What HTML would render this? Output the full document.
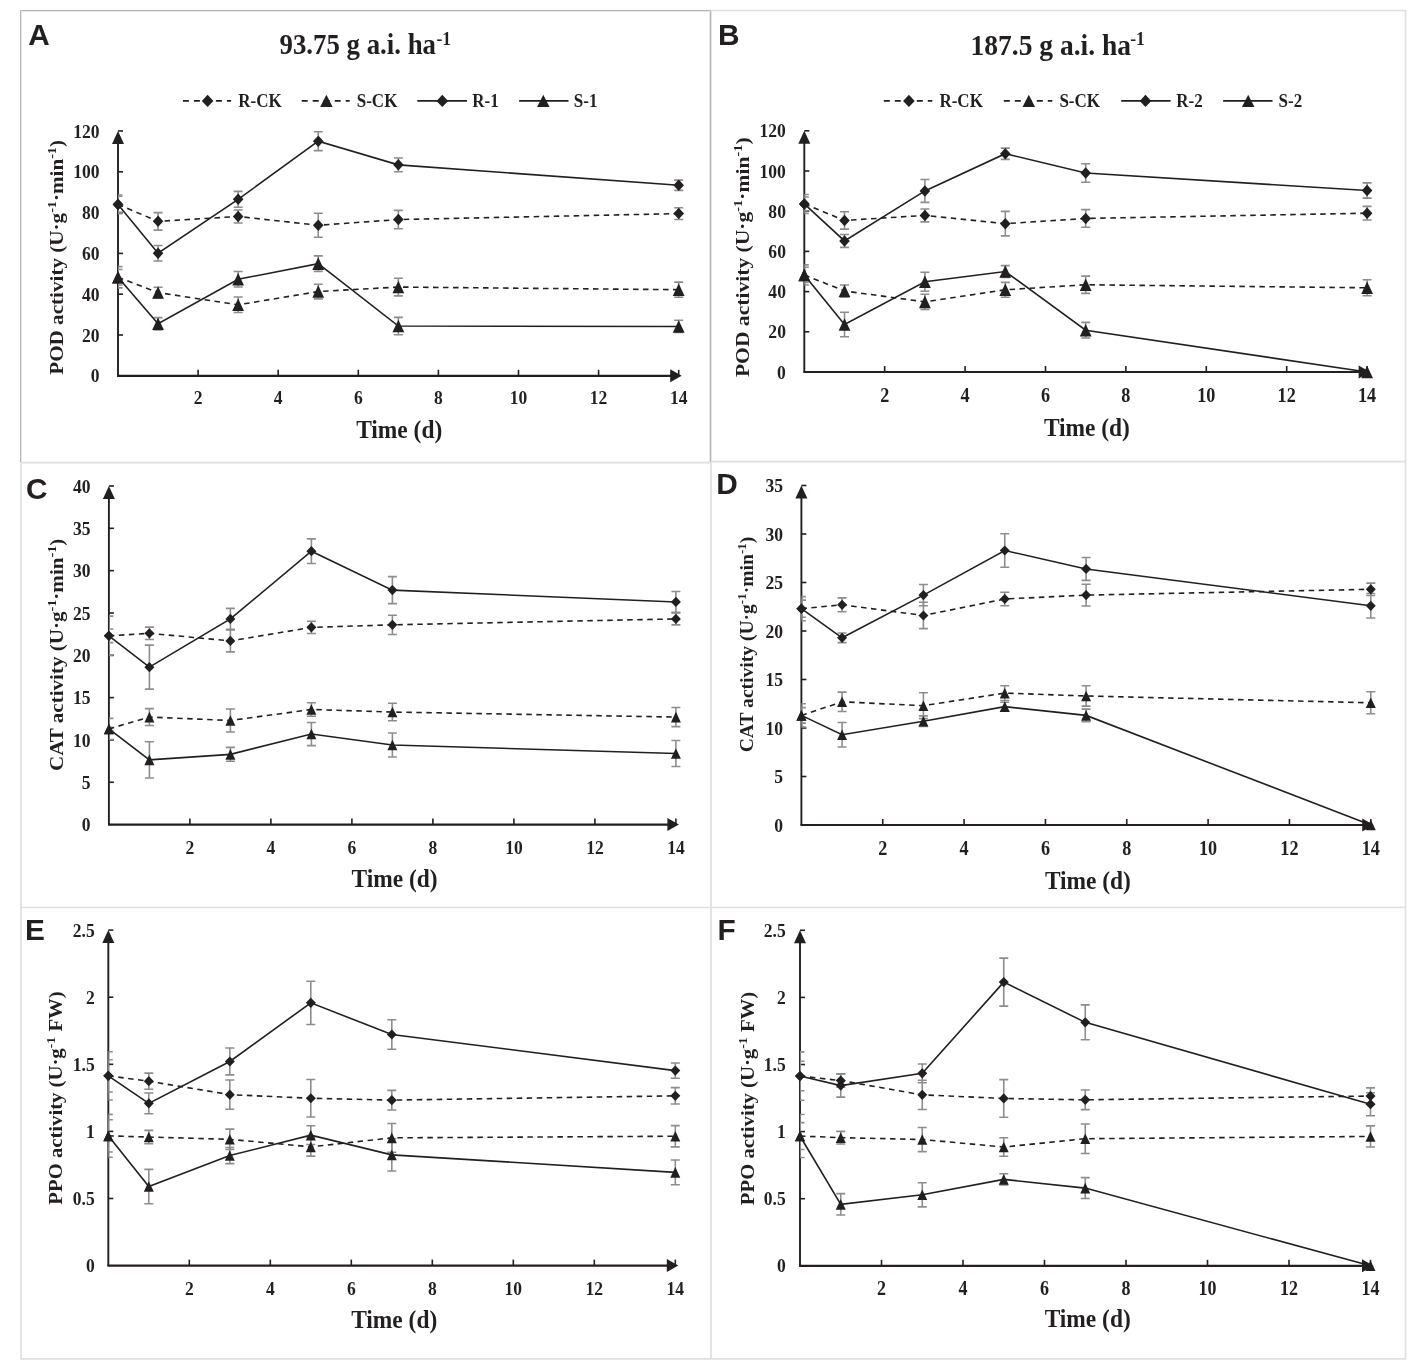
<!DOCTYPE html><html><head><meta charset="utf-8"><title>Figure</title><style>html,body{margin:0;padding:0;background:#fff;}svg{display:block;will-change:transform;}</style></head><body>
<svg width="1417" height="1371" viewBox="0 0 1417 1371">
<rect width="1417" height="1371" fill="#fff"/>
<path d="M21,462V1358.8H1405.5V10.5H711V1358.8M21,907.5H1405.5M21,462.6H711M711,461.6H1405.5" stroke="#dfe0e2" stroke-width="1.7" fill="none"/>
<path d="M20.5,462V10.5H710.5V462" stroke="#b6b7b9" stroke-width="1" fill="none"/>
<path d="M21.5,462V11.5H709.5V462" stroke="#e6e6e7" stroke-width="1" fill="none"/>
<text transform="translate(279.5,54.2) scale(0.886,1)" font-family="'Liberation Serif', serif" font-weight="bold" font-size="30.3" fill="#231f20">93.75 g a.i. ha</text>
<text transform="translate(436.5,44.6) scale(0.9,1)" font-family="'Liberation Serif', serif" font-weight="bold" font-size="19.5" fill="#231f20">-1</text>
<text transform="translate(970.6,54.6) scale(0.908,1)" font-family="'Liberation Serif', serif" font-weight="bold" font-size="30.3" fill="#231f20">187.5 g a.i. ha</text>
<text transform="translate(1130.2,44.6) scale(0.9,1)" font-family="'Liberation Serif', serif" font-weight="bold" font-size="19.5" fill="#231f20">-1</text>
<path d="M182.9,100.9H231.1" stroke="#231f20" stroke-width="1.6" stroke-dasharray="6,5"/>
<path d="M207.60,94.75L213.40,100.90L207.60,107.05L201.80,100.90Z" fill="#231f20"/>
<text transform="translate(238.20,107.20) scale(0.865,1)" font-family="'Liberation Serif', serif" font-weight="bold" font-size="19.7" text-anchor="start" fill="#231f20" >R-CK</text>
<path d="M301.7,100.9H349.7" stroke="#231f20" stroke-width="1.6" stroke-dasharray="6,5"/>
<path d="M326.40,94.75L332.65,107.05L320.15,107.05Z" fill="#231f20"/>
<text transform="translate(356.70,107.20) scale(0.865,1)" font-family="'Liberation Serif', serif" font-weight="bold" font-size="19.7" text-anchor="start" fill="#231f20" >S-CK</text>
<path d="M417.3,100.9H467" stroke="#231f20" stroke-width="1.6"/>
<path d="M442.30,94.75L448.10,100.90L442.30,107.05L436.50,100.90Z" fill="#231f20"/>
<text transform="translate(472.30,107.20) scale(0.865,1)" font-family="'Liberation Serif', serif" font-weight="bold" font-size="19.7" text-anchor="start" fill="#231f20" >R-1</text>
<path d="M519.1,100.9H568.5" stroke="#231f20" stroke-width="1.6"/>
<path d="M543.30,94.75L549.55,107.05L537.05,107.05Z" fill="#231f20"/>
<text transform="translate(573.80,107.20) scale(0.865,1)" font-family="'Liberation Serif', serif" font-weight="bold" font-size="19.7" text-anchor="start" fill="#231f20" >S-1</text>
<path d="M883.8,100.9H932.3" stroke="#231f20" stroke-width="1.6" stroke-dasharray="6,5"/>
<path d="M908.90,94.75L914.70,100.90L908.90,107.05L903.10,100.90Z" fill="#231f20"/>
<text transform="translate(939.40,107.20) scale(0.865,1)" font-family="'Liberation Serif', serif" font-weight="bold" font-size="19.7" text-anchor="start" fill="#231f20" >R-CK</text>
<path d="M1003.8,100.9H1052.3" stroke="#231f20" stroke-width="1.6" stroke-dasharray="6,5"/>
<path d="M1028.80,94.75L1035.05,107.05L1022.55,107.05Z" fill="#231f20"/>
<text transform="translate(1059.40,107.20) scale(0.865,1)" font-family="'Liberation Serif', serif" font-weight="bold" font-size="19.7" text-anchor="start" fill="#231f20" >S-CK</text>
<path d="M1121.2,100.9H1170.6" stroke="#231f20" stroke-width="1.6"/>
<path d="M1145.50,94.75L1151.30,100.90L1145.50,107.05L1139.70,100.90Z" fill="#231f20"/>
<text transform="translate(1176.20,107.20) scale(0.865,1)" font-family="'Liberation Serif', serif" font-weight="bold" font-size="19.7" text-anchor="start" fill="#231f20" >R-2</text>
<path d="M1223.1,100.9H1272.5" stroke="#231f20" stroke-width="1.6"/>
<path d="M1248.20,94.75L1254.45,107.05L1241.95,107.05Z" fill="#231f20"/>
<text transform="translate(1278.50,107.20) scale(0.865,1)" font-family="'Liberation Serif', serif" font-weight="bold" font-size="19.7" text-anchor="start" fill="#231f20" >S-2</text>
<path d="M118.00,139.00V375.80" stroke="#231f20" stroke-width="1.9" fill="none"/>
<path d="M117.05,375.80H673.70" stroke="#231f20" stroke-width="2.2" fill="none"/>
<path d="M118.00,131.00L124.00,144.00L112.00,144.00Z" fill="#231f20"/>
<path d="M681.70,375.80L670.20,369.30L670.20,382.30Z" fill="#231f20"/>
<text transform="translate(99.60,382.40) scale(0.9,1)" font-family="'Liberation Serif', serif" font-weight="bold" font-size="19.5" text-anchor="end" fill="#231f20" >0</text>
<path d="M118.00,335.00H123.00" stroke="#231f20" stroke-width="1.6"/>
<text transform="translate(99.60,341.60) scale(0.9,1)" font-family="'Liberation Serif', serif" font-weight="bold" font-size="19.5" text-anchor="end" fill="#231f20" >20</text>
<path d="M118.00,294.20H123.00" stroke="#231f20" stroke-width="1.6"/>
<text transform="translate(99.60,300.80) scale(0.9,1)" font-family="'Liberation Serif', serif" font-weight="bold" font-size="19.5" text-anchor="end" fill="#231f20" >40</text>
<path d="M118.00,253.40H123.00" stroke="#231f20" stroke-width="1.6"/>
<text transform="translate(99.60,260.00) scale(0.9,1)" font-family="'Liberation Serif', serif" font-weight="bold" font-size="19.5" text-anchor="end" fill="#231f20" >60</text>
<path d="M118.00,212.60H123.00" stroke="#231f20" stroke-width="1.6"/>
<text transform="translate(99.60,219.20) scale(0.9,1)" font-family="'Liberation Serif', serif" font-weight="bold" font-size="19.5" text-anchor="end" fill="#231f20" >80</text>
<path d="M118.00,171.80H123.00" stroke="#231f20" stroke-width="1.6"/>
<text transform="translate(99.60,178.40) scale(0.9,1)" font-family="'Liberation Serif', serif" font-weight="bold" font-size="19.5" text-anchor="end" fill="#231f20" >100</text>
<path d="M118.00,131.00H123.00" stroke="#231f20" stroke-width="1.6"/>
<text transform="translate(99.60,137.60) scale(0.9,1)" font-family="'Liberation Serif', serif" font-weight="bold" font-size="19.5" text-anchor="end" fill="#231f20" >120</text>
<path d="M198.10,375.80V369.80" stroke="#231f20" stroke-width="1.6"/>
<text transform="translate(198.10,404.30) scale(0.9,1)" font-family="'Liberation Serif', serif" font-weight="bold" font-size="19.5" text-anchor="middle" fill="#231f20" >2</text>
<path d="M278.20,375.80V369.80" stroke="#231f20" stroke-width="1.6"/>
<text transform="translate(278.20,404.30) scale(0.9,1)" font-family="'Liberation Serif', serif" font-weight="bold" font-size="19.5" text-anchor="middle" fill="#231f20" >4</text>
<path d="M358.30,375.80V369.80" stroke="#231f20" stroke-width="1.6"/>
<text transform="translate(358.30,404.30) scale(0.9,1)" font-family="'Liberation Serif', serif" font-weight="bold" font-size="19.5" text-anchor="middle" fill="#231f20" >6</text>
<path d="M438.40,375.80V369.80" stroke="#231f20" stroke-width="1.6"/>
<text transform="translate(438.40,404.30) scale(0.9,1)" font-family="'Liberation Serif', serif" font-weight="bold" font-size="19.5" text-anchor="middle" fill="#231f20" >8</text>
<path d="M518.50,375.80V369.80" stroke="#231f20" stroke-width="1.6"/>
<text transform="translate(518.50,404.30) scale(0.9,1)" font-family="'Liberation Serif', serif" font-weight="bold" font-size="19.5" text-anchor="middle" fill="#231f20" >10</text>
<path d="M598.60,375.80V369.80" stroke="#231f20" stroke-width="1.6"/>
<text transform="translate(598.60,404.30) scale(0.9,1)" font-family="'Liberation Serif', serif" font-weight="bold" font-size="19.5" text-anchor="middle" fill="#231f20" >12</text>
<path d="M678.70,375.80V369.80" stroke="#231f20" stroke-width="1.6"/>
<text transform="translate(678.70,404.30) scale(0.9,1)" font-family="'Liberation Serif', serif" font-weight="bold" font-size="19.5" text-anchor="middle" fill="#231f20" >14</text>
<clipPath id="c1180"><rect x="118.00" y="0" width="1417" height="1371"/></clipPath><g clip-path="url(#c1180)">
<path d="M118.00,196.28V212.60M113.50,196.28H122.50M113.50,212.60H122.50" stroke="#8b8d90" stroke-width="1.6" fill="none"/>
<path d="M158.05,212.60V230.14M153.55,212.60H162.55M153.55,230.14H162.55" stroke="#8b8d90" stroke-width="1.6" fill="none"/>
<path d="M238.15,209.95V223.00M233.65,209.95H242.65M233.65,223.00H242.65" stroke="#8b8d90" stroke-width="1.6" fill="none"/>
<path d="M318.25,213.21V237.28M313.75,213.21H322.75M313.75,237.28H322.75" stroke="#8b8d90" stroke-width="1.6" fill="none"/>
<path d="M398.35,210.36V228.72M393.85,210.36H402.85M393.85,228.72H402.85" stroke="#8b8d90" stroke-width="1.6" fill="none"/>
<path d="M678.70,207.70V219.54M674.20,207.70H683.20M674.20,219.54H683.20" stroke="#8b8d90" stroke-width="1.6" fill="none"/>
<path d="M118.00,269.52V285.02M113.50,269.52H122.50M113.50,285.02H122.50" stroke="#8b8d90" stroke-width="1.6" fill="none"/>
<path d="M158.05,287.26V297.87M153.55,287.26H162.55M153.55,297.87H162.55" stroke="#8b8d90" stroke-width="1.6" fill="none"/>
<path d="M238.15,297.06V312.56M233.65,297.06H242.65M233.65,312.56H242.65" stroke="#8b8d90" stroke-width="1.6" fill="none"/>
<path d="M318.25,284.20V298.89M313.75,284.20H322.75M313.75,298.89H322.75" stroke="#8b8d90" stroke-width="1.6" fill="none"/>
<path d="M398.35,278.29V295.83M393.85,278.29H402.85M393.85,295.83H402.85" stroke="#8b8d90" stroke-width="1.6" fill="none"/>
<path d="M678.70,282.16V297.26M674.20,282.16H683.20M674.20,297.26H683.20" stroke="#8b8d90" stroke-width="1.6" fill="none"/>
<path d="M118.00,195.06V213.82M113.50,195.06H122.50M113.50,213.82H122.50" stroke="#8b8d90" stroke-width="1.6" fill="none"/>
<path d="M158.05,245.44V260.95M153.55,245.44H162.55M153.55,260.95H162.55" stroke="#8b8d90" stroke-width="1.6" fill="none"/>
<path d="M238.15,191.38V207.30M233.65,191.38H242.65M233.65,207.30H242.65" stroke="#8b8d90" stroke-width="1.6" fill="none"/>
<path d="M318.25,131.82V150.58M313.75,131.82H322.75M313.75,150.58H322.75" stroke="#8b8d90" stroke-width="1.6" fill="none"/>
<path d="M398.35,157.93V171.80M393.85,157.93H402.85M393.85,171.80H402.85" stroke="#8b8d90" stroke-width="1.6" fill="none"/>
<path d="M678.70,180.16V190.36M674.20,180.16H683.20M674.20,190.36H683.20" stroke="#8b8d90" stroke-width="1.6" fill="none"/>
<path d="M118.00,266.66V287.88M113.50,266.66H122.50M113.50,287.88H122.50" stroke="#8b8d90" stroke-width="1.6" fill="none"/>
<path d="M158.05,317.66V329.90M153.55,317.66H162.55M153.55,329.90H162.55" stroke="#8b8d90" stroke-width="1.6" fill="none"/>
<path d="M238.15,271.56V287.06M233.65,271.56H242.65M233.65,287.06H242.65" stroke="#8b8d90" stroke-width="1.6" fill="none"/>
<path d="M318.25,255.85V271.35M313.75,255.85H322.75M313.75,271.35H322.75" stroke="#8b8d90" stroke-width="1.6" fill="none"/>
<path d="M398.35,317.35V334.69M393.85,317.35H402.85M393.85,334.69H402.85" stroke="#8b8d90" stroke-width="1.6" fill="none"/>
<path d="M678.70,320.31V332.55M674.20,320.31H683.20M674.20,332.55H683.20" stroke="#8b8d90" stroke-width="1.6" fill="none"/>
</g>
<polyline points="118.00,204.44 158.05,221.37 238.15,216.48 318.25,225.25 398.35,219.54 678.70,213.62" fill="none" stroke="#231f20" stroke-width="1.6" stroke-dasharray="5.5,4.5"/>
<polyline points="118.00,277.27 158.05,292.57 238.15,304.81 318.25,291.55 398.35,287.06 678.70,289.71" fill="none" stroke="#231f20" stroke-width="1.6" stroke-dasharray="5.5,4.5"/>
<polyline points="118.00,204.44 158.05,253.20 238.15,199.34 318.25,141.20 398.35,164.86 678.70,185.26" fill="none" stroke="#231f20" stroke-width="1.6"/>
<polyline points="118.00,277.27 158.05,323.78 238.15,279.31 318.25,263.60 398.35,326.02 678.70,326.43" fill="none" stroke="#231f20" stroke-width="1.6"/>
<path d="M118.00,198.69L123.30,204.44L118.00,210.19L112.70,204.44Z" fill="#231f20"/>
<path d="M158.05,215.62L163.35,221.37L158.05,227.12L152.75,221.37Z" fill="#231f20"/>
<path d="M238.15,210.73L243.45,216.48L238.15,222.23L232.85,216.48Z" fill="#231f20"/>
<path d="M318.25,219.50L323.55,225.25L318.25,231.00L312.95,225.25Z" fill="#231f20"/>
<path d="M398.35,213.79L403.65,219.54L398.35,225.29L393.05,219.54Z" fill="#231f20"/>
<path d="M678.70,207.87L684.00,213.62L678.70,219.37L673.40,213.62Z" fill="#231f20"/>
<path d="M118.00,198.69L123.30,204.44L118.00,210.19L112.70,204.44Z" fill="#231f20"/>
<path d="M158.05,247.45L163.35,253.20L158.05,258.95L152.75,253.20Z" fill="#231f20"/>
<path d="M238.15,193.59L243.45,199.34L238.15,205.09L232.85,199.34Z" fill="#231f20"/>
<path d="M318.25,135.45L323.55,141.20L318.25,146.95L312.95,141.20Z" fill="#231f20"/>
<path d="M398.35,159.11L403.65,164.86L398.35,170.61L393.05,164.86Z" fill="#231f20"/>
<path d="M678.70,179.51L684.00,185.26L678.70,191.01L673.40,185.26Z" fill="#231f20"/>
<path d="M118.00,270.97L123.90,283.57L112.10,283.57Z" fill="#231f20"/>
<path d="M158.05,286.27L163.95,298.87L152.15,298.87Z" fill="#231f20"/>
<path d="M238.15,298.51L244.05,311.11L232.25,311.11Z" fill="#231f20"/>
<path d="M318.25,285.25L324.15,297.85L312.35,297.85Z" fill="#231f20"/>
<path d="M398.35,280.76L404.25,293.36L392.45,293.36Z" fill="#231f20"/>
<path d="M678.70,283.41L684.60,296.01L672.80,296.01Z" fill="#231f20"/>
<path d="M118.00,270.97L123.90,283.57L112.10,283.57Z" fill="#231f20"/>
<path d="M158.05,317.48L163.95,330.08L152.15,330.08Z" fill="#231f20"/>
<path d="M238.15,273.01L244.05,285.61L232.25,285.61Z" fill="#231f20"/>
<path d="M318.25,257.30L324.15,269.90L312.35,269.90Z" fill="#231f20"/>
<path d="M398.35,319.72L404.25,332.32L392.45,332.32Z" fill="#231f20"/>
<path d="M678.70,320.13L684.60,332.73L672.80,332.73Z" fill="#231f20"/>
<text transform="translate(399.20,438.20) scale(0.915,1)" font-family="'Liberation Serif', serif" font-weight="bold" font-size="25.6" text-anchor="middle" fill="#231f20" >Time (d)</text>
<text transform="translate(63.20,257.40) rotate(-90)" font-family="'Liberation Serif', serif" font-weight="bold" font-size="19.5" text-anchor="middle" fill="#231f20" textLength="234.7" lengthAdjust="spacingAndGlyphs">POD activity (U·g<tspan dy="-7" font-size="13">-1</tspan><tspan dy="7">·min</tspan><tspan dy="-7" font-size="13">-1</tspan><tspan dy="7">)</tspan></text>
<text x="28.3" y="45.3" font-family="'Liberation Sans', sans-serif" font-weight="bold" font-size="29.8" fill="#231f20">A</text>
<path d="M804.30,138.80V372.00" stroke="#231f20" stroke-width="1.9" fill="none"/>
<path d="M803.35,372.00H1362.10" stroke="#231f20" stroke-width="2.2" fill="none"/>
<path d="M804.30,130.80L810.30,143.80L798.30,143.80Z" fill="#231f20"/>
<path d="M1370.10,372.00L1358.60,365.50L1358.60,378.50Z" fill="#231f20"/>
<text transform="translate(785.90,378.60) scale(0.9,1)" font-family="'Liberation Serif', serif" font-weight="bold" font-size="19.5" text-anchor="end" fill="#231f20" >0</text>
<path d="M804.30,331.80H809.30" stroke="#231f20" stroke-width="1.6"/>
<text transform="translate(785.90,338.40) scale(0.9,1)" font-family="'Liberation Serif', serif" font-weight="bold" font-size="19.5" text-anchor="end" fill="#231f20" >20</text>
<path d="M804.30,291.60H809.30" stroke="#231f20" stroke-width="1.6"/>
<text transform="translate(785.90,298.20) scale(0.9,1)" font-family="'Liberation Serif', serif" font-weight="bold" font-size="19.5" text-anchor="end" fill="#231f20" >40</text>
<path d="M804.30,251.40H809.30" stroke="#231f20" stroke-width="1.6"/>
<text transform="translate(785.90,258.00) scale(0.9,1)" font-family="'Liberation Serif', serif" font-weight="bold" font-size="19.5" text-anchor="end" fill="#231f20" >60</text>
<path d="M804.30,211.20H809.30" stroke="#231f20" stroke-width="1.6"/>
<text transform="translate(785.90,217.80) scale(0.9,1)" font-family="'Liberation Serif', serif" font-weight="bold" font-size="19.5" text-anchor="end" fill="#231f20" >80</text>
<path d="M804.30,171.00H809.30" stroke="#231f20" stroke-width="1.6"/>
<text transform="translate(785.90,177.60) scale(0.9,1)" font-family="'Liberation Serif', serif" font-weight="bold" font-size="19.5" text-anchor="end" fill="#231f20" >100</text>
<path d="M804.30,130.80H809.30" stroke="#231f20" stroke-width="1.6"/>
<text transform="translate(785.90,137.40) scale(0.9,1)" font-family="'Liberation Serif', serif" font-weight="bold" font-size="19.5" text-anchor="end" fill="#231f20" >120</text>
<path d="M884.70,372.00V366.00" stroke="#231f20" stroke-width="1.6"/>
<text transform="translate(884.70,402.20) scale(0.9,1)" font-family="'Liberation Serif', serif" font-weight="bold" font-size="20.2" text-anchor="middle" fill="#231f20" >2</text>
<path d="M965.10,372.00V366.00" stroke="#231f20" stroke-width="1.6"/>
<text transform="translate(965.10,402.20) scale(0.9,1)" font-family="'Liberation Serif', serif" font-weight="bold" font-size="20.2" text-anchor="middle" fill="#231f20" >4</text>
<path d="M1045.50,372.00V366.00" stroke="#231f20" stroke-width="1.6"/>
<text transform="translate(1045.50,402.20) scale(0.9,1)" font-family="'Liberation Serif', serif" font-weight="bold" font-size="20.2" text-anchor="middle" fill="#231f20" >6</text>
<path d="M1125.90,372.00V366.00" stroke="#231f20" stroke-width="1.6"/>
<text transform="translate(1125.90,402.20) scale(0.9,1)" font-family="'Liberation Serif', serif" font-weight="bold" font-size="20.2" text-anchor="middle" fill="#231f20" >8</text>
<path d="M1206.30,372.00V366.00" stroke="#231f20" stroke-width="1.6"/>
<text transform="translate(1206.30,402.20) scale(0.9,1)" font-family="'Liberation Serif', serif" font-weight="bold" font-size="20.2" text-anchor="middle" fill="#231f20" >10</text>
<path d="M1286.70,372.00V366.00" stroke="#231f20" stroke-width="1.6"/>
<text transform="translate(1286.70,402.20) scale(0.9,1)" font-family="'Liberation Serif', serif" font-weight="bold" font-size="20.2" text-anchor="middle" fill="#231f20" >12</text>
<path d="M1367.10,372.00V366.00" stroke="#231f20" stroke-width="1.6"/>
<text transform="translate(1367.10,402.20) scale(0.9,1)" font-family="'Liberation Serif', serif" font-weight="bold" font-size="20.2" text-anchor="middle" fill="#231f20" >14</text>
<clipPath id="c8043"><rect x="804.30" y="0" width="1417" height="1371"/></clipPath><g clip-path="url(#c8043)">
<path d="M804.30,196.93V211.00M799.80,196.93H808.80M799.80,211.00H808.80" stroke="#8b8d90" stroke-width="1.6" fill="none"/>
<path d="M844.50,211.80V229.09M840.00,211.80H849.00M840.00,229.09H849.00" stroke="#8b8d90" stroke-width="1.6" fill="none"/>
<path d="M924.90,208.99V221.85M920.40,208.99H929.40M920.40,221.85H929.40" stroke="#8b8d90" stroke-width="1.6" fill="none"/>
<path d="M1005.30,211.40V235.92M1000.80,211.40H1009.80M1000.80,235.92H1009.80" stroke="#8b8d90" stroke-width="1.6" fill="none"/>
<path d="M1085.70,209.59V227.28M1081.20,209.59H1090.20M1081.20,227.28H1090.20" stroke="#8b8d90" stroke-width="1.6" fill="none"/>
<path d="M1367.10,206.38V220.04M1362.60,206.38H1371.60M1362.60,220.04H1371.60" stroke="#8b8d90" stroke-width="1.6" fill="none"/>
<path d="M804.30,267.28V282.56M799.80,267.28H808.80M799.80,282.56H808.80" stroke="#8b8d90" stroke-width="1.6" fill="none"/>
<path d="M844.50,284.97V297.03M840.00,284.97H849.00M840.00,297.03H849.00" stroke="#8b8d90" stroke-width="1.6" fill="none"/>
<path d="M924.90,294.21V309.49M920.40,294.21H929.40M920.40,309.49H929.40" stroke="#8b8d90" stroke-width="1.6" fill="none"/>
<path d="M1005.30,282.35V297.23M1000.80,282.35H1009.80M1000.80,297.23H1009.80" stroke="#8b8d90" stroke-width="1.6" fill="none"/>
<path d="M1085.70,276.12V293.41M1081.20,276.12H1090.20M1081.20,293.41H1090.20" stroke="#8b8d90" stroke-width="1.6" fill="none"/>
<path d="M1367.10,279.74V295.82M1362.60,279.74H1371.60M1362.60,295.82H1371.60" stroke="#8b8d90" stroke-width="1.6" fill="none"/>
<path d="M804.30,194.52V213.41M799.80,194.52H808.80M799.80,213.41H808.80" stroke="#8b8d90" stroke-width="1.6" fill="none"/>
<path d="M844.50,234.52V247.38M840.00,234.52H849.00M840.00,247.38H849.00" stroke="#8b8d90" stroke-width="1.6" fill="none"/>
<path d="M924.90,179.44V202.36M920.40,179.44H929.40M920.40,202.36H929.40" stroke="#8b8d90" stroke-width="1.6" fill="none"/>
<path d="M1005.30,148.09V159.34M1000.80,148.09H1009.80M1000.80,159.34H1009.80" stroke="#8b8d90" stroke-width="1.6" fill="none"/>
<path d="M1085.70,163.76V182.26M1081.20,163.76H1090.20M1081.20,182.26H1090.20" stroke="#8b8d90" stroke-width="1.6" fill="none"/>
<path d="M1367.10,182.86V198.14M1362.60,182.86H1371.60M1362.60,198.14H1371.60" stroke="#8b8d90" stroke-width="1.6" fill="none"/>
<path d="M804.30,264.87V284.97M799.80,264.87H808.80M799.80,284.97H808.80" stroke="#8b8d90" stroke-width="1.6" fill="none"/>
<path d="M844.50,312.30V336.82M840.00,312.30H849.00M840.00,336.82H849.00" stroke="#8b8d90" stroke-width="1.6" fill="none"/>
<path d="M924.90,272.30V291.20M920.40,272.30H929.40M920.40,291.20H929.40" stroke="#8b8d90" stroke-width="1.6" fill="none"/>
<path d="M1005.30,265.67V277.33M1000.80,265.67H1009.80M1000.80,277.33H1009.80" stroke="#8b8d90" stroke-width="1.6" fill="none"/>
<path d="M1085.70,322.35V338.03M1081.20,322.35H1090.20M1081.20,338.03H1090.20" stroke="#8b8d90" stroke-width="1.6" fill="none"/>
</g>
<polyline points="804.30,203.96 844.50,220.45 924.90,215.42 1005.30,223.66 1085.70,218.44 1367.10,213.21" fill="none" stroke="#231f20" stroke-width="1.6" stroke-dasharray="5.5,4.5"/>
<polyline points="804.30,274.92 844.50,291.00 924.90,301.85 1005.30,289.79 1085.70,284.77 1367.10,287.78" fill="none" stroke="#231f20" stroke-width="1.6" stroke-dasharray="5.5,4.5"/>
<polyline points="804.30,203.96 844.50,240.95 924.90,190.90 1005.30,153.71 1085.70,173.01 1367.10,190.50" fill="none" stroke="#231f20" stroke-width="1.6"/>
<polyline points="804.30,274.92 844.50,324.56 924.90,281.75 1005.30,271.50 1085.70,330.19 1367.10,372.00" fill="none" stroke="#231f20" stroke-width="1.6"/>
<path d="M804.30,198.21L809.60,203.96L804.30,209.71L799.00,203.96Z" fill="#231f20"/>
<path d="M844.50,214.70L849.80,220.45L844.50,226.20L839.20,220.45Z" fill="#231f20"/>
<path d="M924.90,209.67L930.20,215.42L924.90,221.17L919.60,215.42Z" fill="#231f20"/>
<path d="M1005.30,217.91L1010.60,223.66L1005.30,229.41L1000.00,223.66Z" fill="#231f20"/>
<path d="M1085.70,212.69L1091.00,218.44L1085.70,224.19L1080.40,218.44Z" fill="#231f20"/>
<path d="M1367.10,207.46L1372.40,213.21L1367.10,218.96L1361.80,213.21Z" fill="#231f20"/>
<path d="M804.30,198.21L809.60,203.96L804.30,209.71L799.00,203.96Z" fill="#231f20"/>
<path d="M844.50,235.20L849.80,240.95L844.50,246.70L839.20,240.95Z" fill="#231f20"/>
<path d="M924.90,185.15L930.20,190.90L924.90,196.65L919.60,190.90Z" fill="#231f20"/>
<path d="M1005.30,147.96L1010.60,153.71L1005.30,159.46L1000.00,153.71Z" fill="#231f20"/>
<path d="M1085.70,167.26L1091.00,173.01L1085.70,178.76L1080.40,173.01Z" fill="#231f20"/>
<path d="M1367.10,184.75L1372.40,190.50L1367.10,196.25L1361.80,190.50Z" fill="#231f20"/>
<path d="M804.30,268.62L810.20,281.22L798.40,281.22Z" fill="#231f20"/>
<path d="M844.50,284.70L850.40,297.30L838.60,297.30Z" fill="#231f20"/>
<path d="M924.90,295.55L930.80,308.15L919.00,308.15Z" fill="#231f20"/>
<path d="M1005.30,283.49L1011.20,296.09L999.40,296.09Z" fill="#231f20"/>
<path d="M1085.70,278.47L1091.60,291.07L1079.80,291.07Z" fill="#231f20"/>
<path d="M1367.10,281.48L1373.00,294.08L1361.20,294.08Z" fill="#231f20"/>
<path d="M804.30,268.62L810.20,281.22L798.40,281.22Z" fill="#231f20"/>
<path d="M844.50,318.26L850.40,330.86L838.60,330.86Z" fill="#231f20"/>
<path d="M924.90,275.45L930.80,288.05L919.00,288.05Z" fill="#231f20"/>
<path d="M1005.30,265.20L1011.20,277.80L999.40,277.80Z" fill="#231f20"/>
<path d="M1085.70,323.89L1091.60,336.49L1079.80,336.49Z" fill="#231f20"/>
<path d="M1367.10,365.70L1373.00,378.30L1361.20,378.30Z" fill="#231f20"/>
<text transform="translate(1086.90,435.70) scale(0.915,1)" font-family="'Liberation Serif', serif" font-weight="bold" font-size="25.6" text-anchor="middle" fill="#231f20" >Time (d)</text>
<text transform="translate(748.50,257.20) rotate(-90)" font-family="'Liberation Serif', serif" font-weight="bold" font-size="19.5" text-anchor="middle" fill="#231f20" textLength="239.8" lengthAdjust="spacingAndGlyphs">POD activity (U·g<tspan dy="-7" font-size="13">-1</tspan><tspan dy="7">·min</tspan><tspan dy="-7" font-size="13">-1</tspan><tspan dy="7">)</tspan></text>
<text x="718" y="44.8" font-family="'Liberation Sans', sans-serif" font-weight="bold" font-size="29.8" fill="#231f20">B</text>
<path d="M108.90,494.00V824.60" stroke="#231f20" stroke-width="1.9" fill="none"/>
<path d="M107.95,824.60H670.90" stroke="#231f20" stroke-width="2.2" fill="none"/>
<path d="M108.90,486.00L114.90,499.00L102.90,499.00Z" fill="#231f20"/>
<path d="M678.90,824.60L667.40,818.10L667.40,831.10Z" fill="#231f20"/>
<text transform="translate(90.50,831.20) scale(0.9,1)" font-family="'Liberation Serif', serif" font-weight="bold" font-size="19.5" text-anchor="end" fill="#231f20" >0</text>
<path d="M108.90,782.27H113.90" stroke="#231f20" stroke-width="1.6"/>
<text transform="translate(90.50,788.88) scale(0.9,1)" font-family="'Liberation Serif', serif" font-weight="bold" font-size="19.5" text-anchor="end" fill="#231f20" >5</text>
<path d="M108.90,739.95H113.90" stroke="#231f20" stroke-width="1.6"/>
<text transform="translate(90.50,746.55) scale(0.9,1)" font-family="'Liberation Serif', serif" font-weight="bold" font-size="19.5" text-anchor="end" fill="#231f20" >10</text>
<path d="M108.90,697.62H113.90" stroke="#231f20" stroke-width="1.6"/>
<text transform="translate(90.50,704.23) scale(0.9,1)" font-family="'Liberation Serif', serif" font-weight="bold" font-size="19.5" text-anchor="end" fill="#231f20" >15</text>
<path d="M108.90,655.30H113.90" stroke="#231f20" stroke-width="1.6"/>
<text transform="translate(90.50,661.90) scale(0.9,1)" font-family="'Liberation Serif', serif" font-weight="bold" font-size="19.5" text-anchor="end" fill="#231f20" >20</text>
<path d="M108.90,612.98H113.90" stroke="#231f20" stroke-width="1.6"/>
<text transform="translate(90.50,619.58) scale(0.9,1)" font-family="'Liberation Serif', serif" font-weight="bold" font-size="19.5" text-anchor="end" fill="#231f20" >25</text>
<path d="M108.90,570.65H113.90" stroke="#231f20" stroke-width="1.6"/>
<text transform="translate(90.50,577.25) scale(0.9,1)" font-family="'Liberation Serif', serif" font-weight="bold" font-size="19.5" text-anchor="end" fill="#231f20" >30</text>
<path d="M108.90,528.33H113.90" stroke="#231f20" stroke-width="1.6"/>
<text transform="translate(90.50,534.93) scale(0.9,1)" font-family="'Liberation Serif', serif" font-weight="bold" font-size="19.5" text-anchor="end" fill="#231f20" >35</text>
<path d="M108.90,486.00H113.90" stroke="#231f20" stroke-width="1.6"/>
<text transform="translate(90.50,492.60) scale(0.9,1)" font-family="'Liberation Serif', serif" font-weight="bold" font-size="19.5" text-anchor="end" fill="#231f20" >40</text>
<path d="M189.90,824.60V818.60" stroke="#231f20" stroke-width="1.6"/>
<text transform="translate(189.90,853.60) scale(0.9,1)" font-family="'Liberation Serif', serif" font-weight="bold" font-size="19.5" text-anchor="middle" fill="#231f20" >2</text>
<path d="M270.90,824.60V818.60" stroke="#231f20" stroke-width="1.6"/>
<text transform="translate(270.90,853.60) scale(0.9,1)" font-family="'Liberation Serif', serif" font-weight="bold" font-size="19.5" text-anchor="middle" fill="#231f20" >4</text>
<path d="M351.90,824.60V818.60" stroke="#231f20" stroke-width="1.6"/>
<text transform="translate(351.90,853.60) scale(0.9,1)" font-family="'Liberation Serif', serif" font-weight="bold" font-size="19.5" text-anchor="middle" fill="#231f20" >6</text>
<path d="M432.90,824.60V818.60" stroke="#231f20" stroke-width="1.6"/>
<text transform="translate(432.90,853.60) scale(0.9,1)" font-family="'Liberation Serif', serif" font-weight="bold" font-size="19.5" text-anchor="middle" fill="#231f20" >8</text>
<path d="M513.90,824.60V818.60" stroke="#231f20" stroke-width="1.6"/>
<text transform="translate(513.90,853.60) scale(0.9,1)" font-family="'Liberation Serif', serif" font-weight="bold" font-size="19.5" text-anchor="middle" fill="#231f20" >10</text>
<path d="M594.90,824.60V818.60" stroke="#231f20" stroke-width="1.6"/>
<text transform="translate(594.90,853.60) scale(0.9,1)" font-family="'Liberation Serif', serif" font-weight="bold" font-size="19.5" text-anchor="middle" fill="#231f20" >12</text>
<path d="M675.90,824.60V818.60" stroke="#231f20" stroke-width="1.6"/>
<text transform="translate(675.90,853.60) scale(0.9,1)" font-family="'Liberation Serif', serif" font-weight="bold" font-size="19.5" text-anchor="middle" fill="#231f20" >14</text>
<clipPath id="c1089"><rect x="108.90" y="0" width="1417" height="1371"/></clipPath><g clip-path="url(#c1089)">
<path d="M108.90,629.06V642.60M104.40,629.06H113.40M104.40,642.60H113.40" stroke="#8b8d90" stroke-width="1.6" fill="none"/>
<path d="M149.40,627.11V639.47M144.90,627.11H153.90M144.90,639.47H153.90" stroke="#8b8d90" stroke-width="1.6" fill="none"/>
<path d="M230.40,629.90V651.91M225.90,629.90H234.90M225.90,651.91H234.90" stroke="#8b8d90" stroke-width="1.6" fill="none"/>
<path d="M311.40,621.19V633.54M306.90,621.19H315.90M306.90,633.54H315.90" stroke="#8b8d90" stroke-width="1.6" fill="none"/>
<path d="M392.40,615.18V634.48M387.90,615.18H396.90M387.90,634.48H396.90" stroke="#8b8d90" stroke-width="1.6" fill="none"/>
<path d="M675.90,612.98V624.83M671.40,612.98H680.40M671.40,624.83H680.40" stroke="#8b8d90" stroke-width="1.6" fill="none"/>
<path d="M108.90,727.25V730.64M104.40,727.25H113.40M104.40,730.64H113.40" stroke="#8b8d90" stroke-width="1.6" fill="none"/>
<path d="M149.40,708.63V725.56M144.90,708.63H153.90M144.90,725.56H153.90" stroke="#8b8d90" stroke-width="1.6" fill="none"/>
<path d="M230.40,708.97V731.99M225.90,708.97H234.90M225.90,731.99H234.90" stroke="#8b8d90" stroke-width="1.6" fill="none"/>
<path d="M311.40,702.70V716.25M306.90,702.70H315.90M306.90,716.25H315.90" stroke="#8b8d90" stroke-width="1.6" fill="none"/>
<path d="M392.40,703.30V720.73M387.90,703.30H396.90M387.90,720.73H396.90" stroke="#8b8d90" stroke-width="1.6" fill="none"/>
<path d="M675.90,707.53V726.66M671.40,707.53H680.40M671.40,726.66H680.40" stroke="#8b8d90" stroke-width="1.6" fill="none"/>
<path d="M108.90,616.11V655.55M104.40,616.11H113.40M104.40,655.55H113.40" stroke="#8b8d90" stroke-width="1.6" fill="none"/>
<path d="M149.40,645.14V689.16M144.90,645.14H153.90M144.90,689.16H153.90" stroke="#8b8d90" stroke-width="1.6" fill="none"/>
<path d="M230.40,608.40V629.40M225.90,608.40H234.90M225.90,629.40H234.90" stroke="#8b8d90" stroke-width="1.6" fill="none"/>
<path d="M311.40,538.91V563.45M306.90,538.91H315.90M306.90,563.45H315.90" stroke="#8b8d90" stroke-width="1.6" fill="none"/>
<path d="M392.40,576.58V603.66M387.90,576.58H396.90M387.90,603.66H396.90" stroke="#8b8d90" stroke-width="1.6" fill="none"/>
<path d="M675.90,591.56V612.38M671.40,591.56H680.40M671.40,612.38H680.40" stroke="#8b8d90" stroke-width="1.6" fill="none"/>
<path d="M108.90,718.36V739.53M104.40,718.36H113.40M104.40,739.53H113.40" stroke="#8b8d90" stroke-width="1.6" fill="none"/>
<path d="M149.40,741.73V777.96M144.90,741.73H153.90M144.90,777.96H153.90" stroke="#8b8d90" stroke-width="1.6" fill="none"/>
<path d="M230.40,747.40V761.28M225.90,747.40H234.90M225.90,761.28H234.90" stroke="#8b8d90" stroke-width="1.6" fill="none"/>
<path d="M311.40,722.43V745.62M306.90,722.43H315.90M306.90,745.62H315.90" stroke="#8b8d90" stroke-width="1.6" fill="none"/>
<path d="M392.40,733.01V757.05M387.90,733.01H396.90M387.90,757.05H396.90" stroke="#8b8d90" stroke-width="1.6" fill="none"/>
<path d="M675.90,740.46V766.53M671.40,740.46H680.40M671.40,766.53H680.40" stroke="#8b8d90" stroke-width="1.6" fill="none"/>
</g>
<polyline points="108.90,635.83 149.40,633.29 230.40,640.91 311.40,627.37 392.40,624.83 675.90,618.90" fill="none" stroke="#231f20" stroke-width="1.6" stroke-dasharray="5.5,4.5"/>
<polyline points="108.90,728.95 149.40,717.09 230.40,720.48 311.40,709.48 392.40,712.02 675.90,717.09" fill="none" stroke="#231f20" stroke-width="1.6" stroke-dasharray="5.5,4.5"/>
<polyline points="108.90,635.83 149.40,667.15 230.40,618.90 311.40,551.18 392.40,590.12 675.90,601.97" fill="none" stroke="#231f20" stroke-width="1.6"/>
<polyline points="108.90,728.95 149.40,759.84 230.40,754.34 311.40,734.02 392.40,745.03 675.90,753.49" fill="none" stroke="#231f20" stroke-width="1.6"/>
<path d="M108.90,630.73L113.90,635.83L108.90,640.93L103.90,635.83Z" fill="#231f20"/>
<path d="M149.40,628.19L154.40,633.29L149.40,638.39L144.40,633.29Z" fill="#231f20"/>
<path d="M230.40,635.81L235.40,640.91L230.40,646.01L225.40,640.91Z" fill="#231f20"/>
<path d="M311.40,622.27L316.40,627.37L311.40,632.47L306.40,627.37Z" fill="#231f20"/>
<path d="M392.40,619.73L397.40,624.83L392.40,629.93L387.40,624.83Z" fill="#231f20"/>
<path d="M675.90,613.80L680.90,618.90L675.90,624.00L670.90,618.90Z" fill="#231f20"/>
<path d="M108.90,630.73L113.90,635.83L108.90,640.93L103.90,635.83Z" fill="#231f20"/>
<path d="M149.40,662.05L154.40,667.15L149.40,672.25L144.40,667.15Z" fill="#231f20"/>
<path d="M230.40,613.80L235.40,618.90L230.40,624.00L225.40,618.90Z" fill="#231f20"/>
<path d="M311.40,546.08L316.40,551.18L311.40,556.28L306.40,551.18Z" fill="#231f20"/>
<path d="M392.40,585.02L397.40,590.12L392.40,595.22L387.40,590.12Z" fill="#231f20"/>
<path d="M675.90,596.87L680.90,601.97L675.90,607.07L670.90,601.97Z" fill="#231f20"/>
<path d="M108.90,723.65L113.90,734.25L103.90,734.25Z" fill="#231f20"/>
<path d="M149.40,711.79L154.40,722.39L144.40,722.39Z" fill="#231f20"/>
<path d="M230.40,715.18L235.40,725.78L225.40,725.78Z" fill="#231f20"/>
<path d="M311.40,704.18L316.40,714.78L306.40,714.78Z" fill="#231f20"/>
<path d="M392.40,706.72L397.40,717.32L387.40,717.32Z" fill="#231f20"/>
<path d="M675.90,711.79L680.90,722.39L670.90,722.39Z" fill="#231f20"/>
<path d="M108.90,723.65L113.90,734.25L103.90,734.25Z" fill="#231f20"/>
<path d="M149.40,754.54L154.40,765.14L144.40,765.14Z" fill="#231f20"/>
<path d="M230.40,749.04L235.40,759.64L225.40,759.64Z" fill="#231f20"/>
<path d="M311.40,728.72L316.40,739.32L306.40,739.32Z" fill="#231f20"/>
<path d="M392.40,739.73L397.40,750.33L387.40,750.33Z" fill="#231f20"/>
<path d="M675.90,748.19L680.90,758.79L670.90,758.79Z" fill="#231f20"/>
<text transform="translate(394.50,886.90) scale(0.915,1)" font-family="'Liberation Serif', serif" font-weight="bold" font-size="25.6" text-anchor="middle" fill="#231f20" >Time (d)</text>
<text transform="translate(63.30,654.90) rotate(-90)" font-family="'Liberation Serif', serif" font-weight="bold" font-size="19.5" text-anchor="middle" fill="#231f20" textLength="232.3" lengthAdjust="spacingAndGlyphs">CAT activity (U·g<tspan dy="-7" font-size="13">-1</tspan><tspan dy="7">·min</tspan><tspan dy="-7" font-size="13">-1</tspan><tspan dy="7">)</tspan></text>
<text x="25.9" y="498.5" font-family="'Liberation Sans', sans-serif" font-weight="bold" font-size="29.8" fill="#231f20">C</text>
<path d="M801.40,493.50V825.00" stroke="#231f20" stroke-width="1.9" fill="none"/>
<path d="M800.45,825.00H1365.78" stroke="#231f20" stroke-width="2.2" fill="none"/>
<path d="M801.40,485.50L807.40,498.50L795.40,498.50Z" fill="#231f20"/>
<path d="M1373.78,825.00L1362.28,818.50L1362.28,831.50Z" fill="#231f20"/>
<text transform="translate(783.00,831.60) scale(0.9,1)" font-family="'Liberation Serif', serif" font-weight="bold" font-size="19.5" text-anchor="end" fill="#231f20" >0</text>
<path d="M801.40,776.50H806.40" stroke="#231f20" stroke-width="1.6"/>
<text transform="translate(783.00,783.10) scale(0.9,1)" font-family="'Liberation Serif', serif" font-weight="bold" font-size="19.5" text-anchor="end" fill="#231f20" >5</text>
<path d="M801.40,728.00H806.40" stroke="#231f20" stroke-width="1.6"/>
<text transform="translate(783.00,734.60) scale(0.9,1)" font-family="'Liberation Serif', serif" font-weight="bold" font-size="19.5" text-anchor="end" fill="#231f20" >10</text>
<path d="M801.40,679.50H806.40" stroke="#231f20" stroke-width="1.6"/>
<text transform="translate(783.00,686.10) scale(0.9,1)" font-family="'Liberation Serif', serif" font-weight="bold" font-size="19.5" text-anchor="end" fill="#231f20" >15</text>
<path d="M801.40,631.00H806.40" stroke="#231f20" stroke-width="1.6"/>
<text transform="translate(783.00,637.60) scale(0.9,1)" font-family="'Liberation Serif', serif" font-weight="bold" font-size="19.5" text-anchor="end" fill="#231f20" >20</text>
<path d="M801.40,582.50H806.40" stroke="#231f20" stroke-width="1.6"/>
<text transform="translate(783.00,589.10) scale(0.9,1)" font-family="'Liberation Serif', serif" font-weight="bold" font-size="19.5" text-anchor="end" fill="#231f20" >25</text>
<path d="M801.40,534.00H806.40" stroke="#231f20" stroke-width="1.6"/>
<text transform="translate(783.00,540.60) scale(0.9,1)" font-family="'Liberation Serif', serif" font-weight="bold" font-size="19.5" text-anchor="end" fill="#231f20" >30</text>
<path d="M801.40,485.50H806.40" stroke="#231f20" stroke-width="1.6"/>
<text transform="translate(783.00,492.10) scale(0.9,1)" font-family="'Liberation Serif', serif" font-weight="bold" font-size="19.5" text-anchor="end" fill="#231f20" >35</text>
<path d="M882.74,825.00V819.00" stroke="#231f20" stroke-width="1.6"/>
<text transform="translate(882.74,855.20) scale(0.9,1)" font-family="'Liberation Serif', serif" font-weight="bold" font-size="20.2" text-anchor="middle" fill="#231f20" >2</text>
<path d="M964.08,825.00V819.00" stroke="#231f20" stroke-width="1.6"/>
<text transform="translate(964.08,855.20) scale(0.9,1)" font-family="'Liberation Serif', serif" font-weight="bold" font-size="20.2" text-anchor="middle" fill="#231f20" >4</text>
<path d="M1045.42,825.00V819.00" stroke="#231f20" stroke-width="1.6"/>
<text transform="translate(1045.42,855.20) scale(0.9,1)" font-family="'Liberation Serif', serif" font-weight="bold" font-size="20.2" text-anchor="middle" fill="#231f20" >6</text>
<path d="M1126.76,825.00V819.00" stroke="#231f20" stroke-width="1.6"/>
<text transform="translate(1126.76,855.20) scale(0.9,1)" font-family="'Liberation Serif', serif" font-weight="bold" font-size="20.2" text-anchor="middle" fill="#231f20" >8</text>
<path d="M1208.10,825.00V819.00" stroke="#231f20" stroke-width="1.6"/>
<text transform="translate(1208.10,855.20) scale(0.9,1)" font-family="'Liberation Serif', serif" font-weight="bold" font-size="20.2" text-anchor="middle" fill="#231f20" >10</text>
<path d="M1289.44,825.00V819.00" stroke="#231f20" stroke-width="1.6"/>
<text transform="translate(1289.44,855.20) scale(0.9,1)" font-family="'Liberation Serif', serif" font-weight="bold" font-size="20.2" text-anchor="middle" fill="#231f20" >12</text>
<path d="M1370.78,825.00V819.00" stroke="#231f20" stroke-width="1.6"/>
<text transform="translate(1370.78,855.20) scale(0.9,1)" font-family="'Liberation Serif', serif" font-weight="bold" font-size="20.2" text-anchor="middle" fill="#231f20" >14</text>
<clipPath id="c8014"><rect x="801.40" y="0" width="1417" height="1371"/></clipPath><g clip-path="url(#c8014)">
<path d="M801.40,600.15V617.23M796.90,600.15H805.90M796.90,617.23H805.90" stroke="#8b8d90" stroke-width="1.6" fill="none"/>
<path d="M842.07,597.83V611.79M837.57,597.83H846.57M837.57,611.79H846.57" stroke="#8b8d90" stroke-width="1.6" fill="none"/>
<path d="M923.41,602.29V628.67M918.91,602.29H927.91M918.91,628.67H927.91" stroke="#8b8d90" stroke-width="1.6" fill="none"/>
<path d="M1004.75,592.20V605.78M1000.25,592.20H1009.25M1000.25,605.78H1009.25" stroke="#8b8d90" stroke-width="1.6" fill="none"/>
<path d="M1086.09,584.25V605.97M1081.59,584.25H1090.59M1081.59,605.97H1090.59" stroke="#8b8d90" stroke-width="1.6" fill="none"/>
<path d="M1370.78,583.08V595.50M1366.28,583.08H1375.28M1366.28,595.50H1375.28" stroke="#8b8d90" stroke-width="1.6" fill="none"/>
<path d="M801.40,707.63V723.15M796.90,707.63H805.90M796.90,723.15H805.90" stroke="#8b8d90" stroke-width="1.6" fill="none"/>
<path d="M842.07,692.11V711.51M837.57,692.11H846.57M837.57,711.51H846.57" stroke="#8b8d90" stroke-width="1.6" fill="none"/>
<path d="M923.41,692.79V718.59M918.91,692.79H927.91M918.91,718.59H927.91" stroke="#8b8d90" stroke-width="1.6" fill="none"/>
<path d="M1004.75,685.71V700.45M1000.25,685.71H1009.25M1000.25,700.45H1009.25" stroke="#8b8d90" stroke-width="1.6" fill="none"/>
<path d="M1086.09,685.81V706.17M1081.59,685.81H1090.59M1081.59,706.17H1090.59" stroke="#8b8d90" stroke-width="1.6" fill="none"/>
<path d="M1370.78,691.82V713.74M1366.28,691.82H1375.28M1366.28,713.74H1375.28" stroke="#8b8d90" stroke-width="1.6" fill="none"/>
<path d="M801.40,596.66V620.72M796.90,596.66H805.90M796.90,620.72H805.90" stroke="#8b8d90" stroke-width="1.6" fill="none"/>
<path d="M842.07,632.94V642.64M837.57,632.94H846.57M837.57,642.64H846.57" stroke="#8b8d90" stroke-width="1.6" fill="none"/>
<path d="M923.41,584.54V605.68M918.91,584.54H927.91M918.91,605.68H927.91" stroke="#8b8d90" stroke-width="1.6" fill="none"/>
<path d="M1004.75,533.71V567.27M1000.25,533.71H1009.25M1000.25,567.27H1009.25" stroke="#8b8d90" stroke-width="1.6" fill="none"/>
<path d="M1086.09,557.47V580.37M1081.59,557.47H1090.59M1081.59,580.37H1090.59" stroke="#8b8d90" stroke-width="1.6" fill="none"/>
<path d="M1370.78,593.56V618.00M1366.28,593.56H1375.28M1366.28,618.00H1375.28" stroke="#8b8d90" stroke-width="1.6" fill="none"/>
<path d="M801.40,703.75V727.03M796.90,703.75H805.90M796.90,727.03H805.90" stroke="#8b8d90" stroke-width="1.6" fill="none"/>
<path d="M842.07,722.57V747.01M837.57,722.57H846.57M837.57,747.01H846.57" stroke="#8b8d90" stroke-width="1.6" fill="none"/>
<path d="M923.41,715.88V726.55M918.91,715.88H927.91M918.91,726.55H927.91" stroke="#8b8d90" stroke-width="1.6" fill="none"/>
<path d="M1004.75,702.20V711.12M1000.25,702.20H1009.25M1000.25,711.12H1009.25" stroke="#8b8d90" stroke-width="1.6" fill="none"/>
<path d="M1086.09,709.09V721.70M1081.59,709.09H1090.59M1081.59,721.70H1090.59" stroke="#8b8d90" stroke-width="1.6" fill="none"/>
</g>
<polyline points="801.40,608.69 842.07,604.81 923.41,615.48 1004.75,598.99 1086.09,595.11 1370.78,589.29" fill="none" stroke="#231f20" stroke-width="1.6" stroke-dasharray="5.5,4.5"/>
<polyline points="801.40,715.39 842.07,701.81 923.41,705.69 1004.75,693.08 1086.09,695.99 1370.78,702.78" fill="none" stroke="#231f20" stroke-width="1.6" stroke-dasharray="5.5,4.5"/>
<polyline points="801.40,608.69 842.07,637.79 923.41,595.11 1004.75,550.49 1086.09,568.92 1370.78,605.78" fill="none" stroke="#231f20" stroke-width="1.6"/>
<polyline points="801.40,715.39 842.07,734.79 923.41,721.21 1004.75,706.66 1086.09,715.39 1370.78,825.00" fill="none" stroke="#231f20" stroke-width="1.6"/>
<path d="M801.40,603.59L806.40,608.69L801.40,613.79L796.40,608.69Z" fill="#231f20"/>
<path d="M842.07,599.71L847.07,604.81L842.07,609.91L837.07,604.81Z" fill="#231f20"/>
<path d="M923.41,610.38L928.41,615.48L923.41,620.58L918.41,615.48Z" fill="#231f20"/>
<path d="M1004.75,593.89L1009.75,598.99L1004.75,604.09L999.75,598.99Z" fill="#231f20"/>
<path d="M1086.09,590.01L1091.09,595.11L1086.09,600.21L1081.09,595.11Z" fill="#231f20"/>
<path d="M1370.78,584.19L1375.78,589.29L1370.78,594.39L1365.78,589.29Z" fill="#231f20"/>
<path d="M801.40,603.59L806.40,608.69L801.40,613.79L796.40,608.69Z" fill="#231f20"/>
<path d="M842.07,632.69L847.07,637.79L842.07,642.89L837.07,637.79Z" fill="#231f20"/>
<path d="M923.41,590.01L928.41,595.11L923.41,600.21L918.41,595.11Z" fill="#231f20"/>
<path d="M1004.75,545.39L1009.75,550.49L1004.75,555.59L999.75,550.49Z" fill="#231f20"/>
<path d="M1086.09,563.82L1091.09,568.92L1086.09,574.02L1081.09,568.92Z" fill="#231f20"/>
<path d="M1370.78,600.68L1375.78,605.78L1370.78,610.88L1365.78,605.78Z" fill="#231f20"/>
<path d="M801.40,710.09L806.40,720.69L796.40,720.69Z" fill="#231f20"/>
<path d="M842.07,696.51L847.07,707.11L837.07,707.11Z" fill="#231f20"/>
<path d="M923.41,700.39L928.41,710.99L918.41,710.99Z" fill="#231f20"/>
<path d="M1004.75,687.78L1009.75,698.38L999.75,698.38Z" fill="#231f20"/>
<path d="M1086.09,690.69L1091.09,701.29L1081.09,701.29Z" fill="#231f20"/>
<path d="M1370.78,697.48L1375.78,708.08L1365.78,708.08Z" fill="#231f20"/>
<path d="M801.40,710.09L806.40,720.69L796.40,720.69Z" fill="#231f20"/>
<path d="M842.07,729.49L847.07,740.09L837.07,740.09Z" fill="#231f20"/>
<path d="M923.41,715.91L928.41,726.51L918.41,726.51Z" fill="#231f20"/>
<path d="M1004.75,701.36L1009.75,711.96L999.75,711.96Z" fill="#231f20"/>
<path d="M1086.09,710.09L1091.09,720.69L1081.09,720.69Z" fill="#231f20"/>
<path d="M1370.78,819.70L1375.78,830.30L1365.78,830.30Z" fill="#231f20"/>
<text transform="translate(1087.90,888.80) scale(0.915,1)" font-family="'Liberation Serif', serif" font-weight="bold" font-size="25.6" text-anchor="middle" fill="#231f20" >Time (d)</text>
<text transform="translate(753.20,644.50) rotate(-90)" font-family="'Liberation Serif', serif" font-weight="bold" font-size="19.5" text-anchor="middle" fill="#231f20" textLength="215.6" lengthAdjust="spacingAndGlyphs">CAT activity (U·g<tspan dy="-7" font-size="13">-1</tspan><tspan dy="7">·min</tspan><tspan dy="-7" font-size="13">-1</tspan><tspan dy="7">)</tspan></text>
<text x="716.3" y="493.7" font-family="'Liberation Sans', sans-serif" font-weight="bold" font-size="29.8" fill="#231f20">D</text>
<path d="M108.30,938.10V1265.60" stroke="#231f20" stroke-width="1.9" fill="none"/>
<path d="M107.35,1265.60H670.30" stroke="#231f20" stroke-width="2.2" fill="none"/>
<path d="M108.30,930.10L114.30,943.10L102.30,943.10Z" fill="#231f20"/>
<path d="M678.30,1265.60L666.80,1259.10L666.80,1272.10Z" fill="#231f20"/>
<text transform="translate(94.70,1272.20) scale(0.9,1)" font-family="'Liberation Serif', serif" font-weight="bold" font-size="19.5" text-anchor="end" fill="#231f20" >0</text>
<path d="M108.30,1198.50H113.30" stroke="#231f20" stroke-width="1.6"/>
<text transform="translate(94.70,1205.10) scale(0.9,1)" font-family="'Liberation Serif', serif" font-weight="bold" font-size="19.5" text-anchor="end" fill="#231f20" >0.5</text>
<path d="M108.30,1131.40H113.30" stroke="#231f20" stroke-width="1.6"/>
<text transform="translate(94.70,1138.00) scale(0.9,1)" font-family="'Liberation Serif', serif" font-weight="bold" font-size="19.5" text-anchor="end" fill="#231f20" >1</text>
<path d="M108.30,1064.30H113.30" stroke="#231f20" stroke-width="1.6"/>
<text transform="translate(94.70,1070.90) scale(0.9,1)" font-family="'Liberation Serif', serif" font-weight="bold" font-size="19.5" text-anchor="end" fill="#231f20" >1.5</text>
<path d="M108.30,997.20H113.30" stroke="#231f20" stroke-width="1.6"/>
<text transform="translate(94.70,1003.80) scale(0.9,1)" font-family="'Liberation Serif', serif" font-weight="bold" font-size="19.5" text-anchor="end" fill="#231f20" >2</text>
<path d="M108.30,930.10H113.30" stroke="#231f20" stroke-width="1.6"/>
<text transform="translate(94.70,936.70) scale(0.9,1)" font-family="'Liberation Serif', serif" font-weight="bold" font-size="19.5" text-anchor="end" fill="#231f20" >2.5</text>
<path d="M189.30,1265.60V1259.60" stroke="#231f20" stroke-width="1.6"/>
<text transform="translate(189.30,1294.60) scale(0.9,1)" font-family="'Liberation Serif', serif" font-weight="bold" font-size="19.5" text-anchor="middle" fill="#231f20" >2</text>
<path d="M270.30,1265.60V1259.60" stroke="#231f20" stroke-width="1.6"/>
<text transform="translate(270.30,1294.60) scale(0.9,1)" font-family="'Liberation Serif', serif" font-weight="bold" font-size="19.5" text-anchor="middle" fill="#231f20" >4</text>
<path d="M351.30,1265.60V1259.60" stroke="#231f20" stroke-width="1.6"/>
<text transform="translate(351.30,1294.60) scale(0.9,1)" font-family="'Liberation Serif', serif" font-weight="bold" font-size="19.5" text-anchor="middle" fill="#231f20" >6</text>
<path d="M432.30,1265.60V1259.60" stroke="#231f20" stroke-width="1.6"/>
<text transform="translate(432.30,1294.60) scale(0.9,1)" font-family="'Liberation Serif', serif" font-weight="bold" font-size="19.5" text-anchor="middle" fill="#231f20" >8</text>
<path d="M513.30,1265.60V1259.60" stroke="#231f20" stroke-width="1.6"/>
<text transform="translate(513.30,1294.60) scale(0.9,1)" font-family="'Liberation Serif', serif" font-weight="bold" font-size="19.5" text-anchor="middle" fill="#231f20" >10</text>
<path d="M594.30,1265.60V1259.60" stroke="#231f20" stroke-width="1.6"/>
<text transform="translate(594.30,1294.60) scale(0.9,1)" font-family="'Liberation Serif', serif" font-weight="bold" font-size="19.5" text-anchor="middle" fill="#231f20" >12</text>
<path d="M675.30,1265.60V1259.60" stroke="#231f20" stroke-width="1.6"/>
<text transform="translate(675.30,1294.60) scale(0.9,1)" font-family="'Liberation Serif', serif" font-weight="bold" font-size="19.5" text-anchor="middle" fill="#231f20" >14</text>
<clipPath id="c1083"><rect x="108.30" y="0" width="1417" height="1371"/></clipPath><g clip-path="url(#c1083)">
<path d="M108.30,1059.74V1091.95M103.80,1059.74H112.80M103.80,1091.95H112.80" stroke="#8b8d90" stroke-width="1.6" fill="none"/>
<path d="M148.80,1073.16V1089.26M144.30,1073.16H153.30M144.30,1089.26H153.30" stroke="#8b8d90" stroke-width="1.6" fill="none"/>
<path d="M229.80,1080.00V1109.26M225.30,1080.00H234.30M225.30,1109.26H234.30" stroke="#8b8d90" stroke-width="1.6" fill="none"/>
<path d="M310.80,1079.46V1117.04M306.30,1079.46H315.30M306.30,1117.04H315.30" stroke="#8b8d90" stroke-width="1.6" fill="none"/>
<path d="M391.80,1090.33V1109.93M387.30,1090.33H396.30M387.30,1109.93H396.30" stroke="#8b8d90" stroke-width="1.6" fill="none"/>
<path d="M675.30,1087.65V1104.02M670.80,1087.65H679.80M670.80,1104.02H679.80" stroke="#8b8d90" stroke-width="1.6" fill="none"/>
<path d="M108.30,1119.72V1151.93M103.80,1119.72H112.80M103.80,1151.93H112.80" stroke="#8b8d90" stroke-width="1.6" fill="none"/>
<path d="M148.80,1130.33V1143.75M144.30,1130.33H153.30M144.30,1143.75H153.30" stroke="#8b8d90" stroke-width="1.6" fill="none"/>
<path d="M229.80,1129.12V1149.52M225.30,1129.12H234.30M225.30,1149.52H234.30" stroke="#8b8d90" stroke-width="1.6" fill="none"/>
<path d="M310.80,1137.57V1156.09M306.30,1137.57H315.30M306.30,1156.09H315.30" stroke="#8b8d90" stroke-width="1.6" fill="none"/>
<path d="M391.80,1123.48V1152.20M387.30,1123.48H396.30M387.30,1152.20H396.30" stroke="#8b8d90" stroke-width="1.6" fill="none"/>
<path d="M675.30,1125.63V1146.83M670.80,1125.63H679.80M670.80,1146.83H679.80" stroke="#8b8d90" stroke-width="1.6" fill="none"/>
<path d="M108.30,1051.69V1100.00M103.80,1051.69H112.80M103.80,1100.00H112.80" stroke="#8b8d90" stroke-width="1.6" fill="none"/>
<path d="M148.80,1093.02V1113.69M144.30,1093.02H153.30M144.30,1113.69H153.30" stroke="#8b8d90" stroke-width="1.6" fill="none"/>
<path d="M229.80,1048.06V1074.90M225.30,1048.06H234.30M225.30,1074.90H234.30" stroke="#8b8d90" stroke-width="1.6" fill="none"/>
<path d="M310.80,981.23V1024.44M306.30,981.23H315.30M306.30,1024.44H315.30" stroke="#8b8d90" stroke-width="1.6" fill="none"/>
<path d="M391.80,1019.75V1049.27M387.30,1019.75H396.30M387.30,1049.27H396.30" stroke="#8b8d90" stroke-width="1.6" fill="none"/>
<path d="M675.30,1062.96V1078.26M670.80,1062.96H679.80M670.80,1078.26H679.80" stroke="#8b8d90" stroke-width="1.6" fill="none"/>
<path d="M108.30,1114.36V1157.30M103.80,1114.36H112.80M103.80,1157.30H112.80" stroke="#8b8d90" stroke-width="1.6" fill="none"/>
<path d="M148.80,1169.38V1203.73M144.30,1169.38H153.30M144.30,1203.73H153.30" stroke="#8b8d90" stroke-width="1.6" fill="none"/>
<path d="M229.80,1147.50V1163.61M225.30,1147.50H234.30M225.30,1163.61H234.30" stroke="#8b8d90" stroke-width="1.6" fill="none"/>
<path d="M310.80,1125.76V1144.55M306.30,1125.76H315.30M306.30,1144.55H315.30" stroke="#8b8d90" stroke-width="1.6" fill="none"/>
<path d="M391.80,1138.78V1170.99M387.30,1138.78H396.30M387.30,1170.99H396.30" stroke="#8b8d90" stroke-width="1.6" fill="none"/>
<path d="M675.30,1159.98V1184.68M670.80,1159.98H679.80M670.80,1184.68H679.80" stroke="#8b8d90" stroke-width="1.6" fill="none"/>
</g>
<polyline points="108.30,1075.84 148.80,1081.21 229.80,1094.63 310.80,1098.25 391.80,1100.13 675.30,1095.84" fill="none" stroke="#231f20" stroke-width="1.6" stroke-dasharray="5.5,4.5"/>
<polyline points="108.30,1135.83 148.80,1137.04 229.80,1139.32 310.80,1146.83 391.80,1137.84 675.30,1136.23" fill="none" stroke="#231f20" stroke-width="1.6" stroke-dasharray="5.5,4.5"/>
<polyline points="108.30,1075.84 148.80,1103.35 229.80,1061.48 310.80,1002.84 391.80,1034.51 675.30,1070.61" fill="none" stroke="#231f20" stroke-width="1.6"/>
<polyline points="108.30,1135.83 148.80,1186.56 229.80,1155.56 310.80,1135.16 391.80,1154.88 675.30,1172.33" fill="none" stroke="#231f20" stroke-width="1.6"/>
<path d="M108.30,1070.74L113.30,1075.84L108.30,1080.94L103.30,1075.84Z" fill="#231f20"/>
<path d="M148.80,1076.11L153.80,1081.21L148.80,1086.31L143.80,1081.21Z" fill="#231f20"/>
<path d="M229.80,1089.53L234.80,1094.63L229.80,1099.73L224.80,1094.63Z" fill="#231f20"/>
<path d="M310.80,1093.15L315.80,1098.25L310.80,1103.35L305.80,1098.25Z" fill="#231f20"/>
<path d="M391.80,1095.03L396.80,1100.13L391.80,1105.23L386.80,1100.13Z" fill="#231f20"/>
<path d="M675.30,1090.74L680.30,1095.84L675.30,1100.94L670.30,1095.84Z" fill="#231f20"/>
<path d="M108.30,1070.74L113.30,1075.84L108.30,1080.94L103.30,1075.84Z" fill="#231f20"/>
<path d="M148.80,1098.25L153.80,1103.35L148.80,1108.45L143.80,1103.35Z" fill="#231f20"/>
<path d="M229.80,1056.38L234.80,1061.48L229.80,1066.58L224.80,1061.48Z" fill="#231f20"/>
<path d="M310.80,997.74L315.80,1002.84L310.80,1007.94L305.80,1002.84Z" fill="#231f20"/>
<path d="M391.80,1029.41L396.80,1034.51L391.80,1039.61L386.80,1034.51Z" fill="#231f20"/>
<path d="M675.30,1065.51L680.30,1070.61L675.30,1075.71L670.30,1070.61Z" fill="#231f20"/>
<path d="M108.30,1130.53L113.30,1141.13L103.30,1141.13Z" fill="#231f20"/>
<path d="M148.80,1131.74L153.80,1142.34L143.80,1142.34Z" fill="#231f20"/>
<path d="M229.80,1134.02L234.80,1144.62L224.80,1144.62Z" fill="#231f20"/>
<path d="M310.80,1141.53L315.80,1152.13L305.80,1152.13Z" fill="#231f20"/>
<path d="M391.80,1132.54L396.80,1143.14L386.80,1143.14Z" fill="#231f20"/>
<path d="M675.30,1130.93L680.30,1141.53L670.30,1141.53Z" fill="#231f20"/>
<path d="M108.30,1130.53L113.30,1141.13L103.30,1141.13Z" fill="#231f20"/>
<path d="M148.80,1181.26L153.80,1191.86L143.80,1191.86Z" fill="#231f20"/>
<path d="M229.80,1150.26L234.80,1160.86L224.80,1160.86Z" fill="#231f20"/>
<path d="M310.80,1129.86L315.80,1140.46L305.80,1140.46Z" fill="#231f20"/>
<path d="M391.80,1149.59L396.80,1160.18L386.80,1160.18Z" fill="#231f20"/>
<path d="M675.30,1167.03L680.30,1177.63L670.30,1177.63Z" fill="#231f20"/>
<text transform="translate(394.20,1327.80) scale(0.915,1)" font-family="'Liberation Serif', serif" font-weight="bold" font-size="25.6" text-anchor="middle" fill="#231f20" >Time (d)</text>
<text transform="translate(62.30,1098.00) rotate(-90)" font-family="'Liberation Serif', serif" font-weight="bold" font-size="19.5" text-anchor="middle" fill="#231f20" textLength="213.3" lengthAdjust="spacingAndGlyphs">PPO activity (U·g<tspan dy="-7" font-size="13">-1</tspan><tspan dy="7"> FW)</tspan></text>
<text x="25.1" y="939.9" font-family="'Liberation Sans', sans-serif" font-weight="bold" font-size="29.8" fill="#231f20">E</text>
<path d="M800.00,938.30V1265.80" stroke="#231f20" stroke-width="1.9" fill="none"/>
<path d="M799.05,1265.80H1365.50" stroke="#231f20" stroke-width="2.2" fill="none"/>
<path d="M800.00,930.30L806.00,943.30L794.00,943.30Z" fill="#231f20"/>
<path d="M1373.50,1265.80L1362.00,1259.30L1362.00,1272.30Z" fill="#231f20"/>
<text transform="translate(785.70,1272.40) scale(0.9,1)" font-family="'Liberation Serif', serif" font-weight="bold" font-size="19.5" text-anchor="end" fill="#231f20" >0</text>
<path d="M800.00,1198.70H805.00" stroke="#231f20" stroke-width="1.6"/>
<text transform="translate(785.70,1205.30) scale(0.9,1)" font-family="'Liberation Serif', serif" font-weight="bold" font-size="19.5" text-anchor="end" fill="#231f20" >0.5</text>
<path d="M800.00,1131.60H805.00" stroke="#231f20" stroke-width="1.6"/>
<text transform="translate(785.70,1138.20) scale(0.9,1)" font-family="'Liberation Serif', serif" font-weight="bold" font-size="19.5" text-anchor="end" fill="#231f20" >1</text>
<path d="M800.00,1064.50H805.00" stroke="#231f20" stroke-width="1.6"/>
<text transform="translate(785.70,1071.10) scale(0.9,1)" font-family="'Liberation Serif', serif" font-weight="bold" font-size="19.5" text-anchor="end" fill="#231f20" >1.5</text>
<path d="M800.00,997.40H805.00" stroke="#231f20" stroke-width="1.6"/>
<text transform="translate(785.70,1004.00) scale(0.9,1)" font-family="'Liberation Serif', serif" font-weight="bold" font-size="19.5" text-anchor="end" fill="#231f20" >2</text>
<path d="M800.00,930.30H805.00" stroke="#231f20" stroke-width="1.6"/>
<text transform="translate(785.70,936.90) scale(0.9,1)" font-family="'Liberation Serif', serif" font-weight="bold" font-size="19.5" text-anchor="end" fill="#231f20" >2.5</text>
<path d="M881.50,1265.80V1259.80" stroke="#231f20" stroke-width="1.6"/>
<text transform="translate(881.50,1295.00) scale(0.9,1)" font-family="'Liberation Serif', serif" font-weight="bold" font-size="20" text-anchor="middle" fill="#231f20" >2</text>
<path d="M963.00,1265.80V1259.80" stroke="#231f20" stroke-width="1.6"/>
<text transform="translate(963.00,1295.00) scale(0.9,1)" font-family="'Liberation Serif', serif" font-weight="bold" font-size="20" text-anchor="middle" fill="#231f20" >4</text>
<path d="M1044.50,1265.80V1259.80" stroke="#231f20" stroke-width="1.6"/>
<text transform="translate(1044.50,1295.00) scale(0.9,1)" font-family="'Liberation Serif', serif" font-weight="bold" font-size="20" text-anchor="middle" fill="#231f20" >6</text>
<path d="M1126.00,1265.80V1259.80" stroke="#231f20" stroke-width="1.6"/>
<text transform="translate(1126.00,1295.00) scale(0.9,1)" font-family="'Liberation Serif', serif" font-weight="bold" font-size="20" text-anchor="middle" fill="#231f20" >8</text>
<path d="M1207.50,1265.80V1259.80" stroke="#231f20" stroke-width="1.6"/>
<text transform="translate(1207.50,1295.00) scale(0.9,1)" font-family="'Liberation Serif', serif" font-weight="bold" font-size="20" text-anchor="middle" fill="#231f20" >10</text>
<path d="M1289.00,1265.80V1259.80" stroke="#231f20" stroke-width="1.6"/>
<text transform="translate(1289.00,1295.00) scale(0.9,1)" font-family="'Liberation Serif', serif" font-weight="bold" font-size="20" text-anchor="middle" fill="#231f20" >12</text>
<path d="M1370.50,1265.80V1259.80" stroke="#231f20" stroke-width="1.6"/>
<text transform="translate(1370.50,1295.00) scale(0.9,1)" font-family="'Liberation Serif', serif" font-weight="bold" font-size="20" text-anchor="middle" fill="#231f20" >14</text>
<clipPath id="c8000"><rect x="800.00" y="0" width="1417" height="1371"/></clipPath><g clip-path="url(#c8000)">
<path d="M800.00,1061.28V1090.80M795.50,1061.28H804.50M795.50,1090.80H804.50" stroke="#8b8d90" stroke-width="1.6" fill="none"/>
<path d="M840.75,1073.89V1087.31M836.25,1073.89H845.25M836.25,1087.31H845.25" stroke="#8b8d90" stroke-width="1.6" fill="none"/>
<path d="M922.25,1080.20V1109.46M917.75,1080.20H926.75M917.75,1109.46H926.75" stroke="#8b8d90" stroke-width="1.6" fill="none"/>
<path d="M1003.75,1079.66V1117.24M999.25,1079.66H1008.25M999.25,1117.24H1008.25" stroke="#8b8d90" stroke-width="1.6" fill="none"/>
<path d="M1085.25,1090.00V1109.59M1080.75,1090.00H1089.75M1080.75,1109.59H1089.75" stroke="#8b8d90" stroke-width="1.6" fill="none"/>
<path d="M1370.50,1087.85V1104.22M1366.00,1087.85H1375.00M1366.00,1104.22H1375.00" stroke="#8b8d90" stroke-width="1.6" fill="none"/>
<path d="M800.00,1122.61V1149.45M795.50,1122.61H804.50M795.50,1149.45H804.50" stroke="#8b8d90" stroke-width="1.6" fill="none"/>
<path d="M840.75,1131.33V1143.95M836.25,1131.33H845.25M836.25,1143.95H845.25" stroke="#8b8d90" stroke-width="1.6" fill="none"/>
<path d="M922.25,1127.44V1151.60M917.75,1127.44H926.75M917.75,1151.60H926.75" stroke="#8b8d90" stroke-width="1.6" fill="none"/>
<path d="M1003.75,1137.77V1156.29M999.25,1137.77H1008.25M999.25,1156.29H1008.25" stroke="#8b8d90" stroke-width="1.6" fill="none"/>
<path d="M1085.25,1123.95V1153.47M1080.75,1123.95H1089.75M1080.75,1153.47H1089.75" stroke="#8b8d90" stroke-width="1.6" fill="none"/>
<path d="M1370.50,1125.83V1147.03M1366.00,1125.83H1375.00M1366.00,1147.03H1375.00" stroke="#8b8d90" stroke-width="1.6" fill="none"/>
<path d="M800.00,1051.89V1100.20M795.50,1051.89H804.50M795.50,1100.20H804.50" stroke="#8b8d90" stroke-width="1.6" fill="none"/>
<path d="M840.75,1074.03V1097.11M836.25,1074.03H845.25M836.25,1097.11H845.25" stroke="#8b8d90" stroke-width="1.6" fill="none"/>
<path d="M922.25,1063.96V1082.75M917.75,1063.96H926.75M917.75,1082.75H926.75" stroke="#8b8d90" stroke-width="1.6" fill="none"/>
<path d="M1003.75,958.08V1006.12M999.25,958.08H1008.25M999.25,1006.12H1008.25" stroke="#8b8d90" stroke-width="1.6" fill="none"/>
<path d="M1085.25,1004.92V1039.81M1080.75,1004.92H1089.75M1080.75,1039.81H1089.75" stroke="#8b8d90" stroke-width="1.6" fill="none"/>
<path d="M1370.50,1092.68V1115.76M1366.00,1092.68H1375.00M1366.00,1115.76H1375.00" stroke="#8b8d90" stroke-width="1.6" fill="none"/>
<path d="M800.00,1114.56V1157.50M795.50,1114.56H804.50M795.50,1157.50H804.50" stroke="#8b8d90" stroke-width="1.6" fill="none"/>
<path d="M840.75,1193.60V1215.07M836.25,1193.60H845.25M836.25,1215.07H845.25" stroke="#8b8d90" stroke-width="1.6" fill="none"/>
<path d="M922.25,1182.73V1206.89M917.75,1182.73H926.75M917.75,1206.89H926.75" stroke="#8b8d90" stroke-width="1.6" fill="none"/>
<path d="M1003.75,1173.74V1185.01M999.25,1173.74H1008.25M999.25,1185.01H1008.25" stroke="#8b8d90" stroke-width="1.6" fill="none"/>
<path d="M1085.25,1177.63V1198.57M1080.75,1177.63H1089.75M1080.75,1198.57H1089.75" stroke="#8b8d90" stroke-width="1.6" fill="none"/>
</g>
<polyline points="800.00,1076.04 840.75,1080.60 922.25,1094.83 1003.75,1098.45 1085.25,1099.79 1370.50,1096.04" fill="none" stroke="#231f20" stroke-width="1.6" stroke-dasharray="5.5,4.5"/>
<polyline points="800.00,1136.03 840.75,1137.64 922.25,1139.52 1003.75,1147.03 1085.25,1138.71 1370.50,1136.43" fill="none" stroke="#231f20" stroke-width="1.6" stroke-dasharray="5.5,4.5"/>
<polyline points="800.00,1076.04 840.75,1085.57 922.25,1073.36 1003.75,982.10 1085.25,1022.36 1370.50,1104.22" fill="none" stroke="#231f20" stroke-width="1.6"/>
<polyline points="800.00,1136.03 840.75,1204.34 922.25,1194.81 1003.75,1179.38 1085.25,1188.10 1370.50,1265.80" fill="none" stroke="#231f20" stroke-width="1.6"/>
<path d="M800.00,1070.94L805.00,1076.04L800.00,1081.14L795.00,1076.04Z" fill="#231f20"/>
<path d="M840.75,1075.50L845.75,1080.60L840.75,1085.70L835.75,1080.60Z" fill="#231f20"/>
<path d="M922.25,1089.73L927.25,1094.83L922.25,1099.93L917.25,1094.83Z" fill="#231f20"/>
<path d="M1003.75,1093.35L1008.75,1098.45L1003.75,1103.55L998.75,1098.45Z" fill="#231f20"/>
<path d="M1085.25,1094.69L1090.25,1099.79L1085.25,1104.89L1080.25,1099.79Z" fill="#231f20"/>
<path d="M1370.50,1090.94L1375.50,1096.04L1370.50,1101.14L1365.50,1096.04Z" fill="#231f20"/>
<path d="M800.00,1070.94L805.00,1076.04L800.00,1081.14L795.00,1076.04Z" fill="#231f20"/>
<path d="M840.75,1080.47L845.75,1085.57L840.75,1090.67L835.75,1085.57Z" fill="#231f20"/>
<path d="M922.25,1068.26L927.25,1073.36L922.25,1078.46L917.25,1073.36Z" fill="#231f20"/>
<path d="M1003.75,977.00L1008.75,982.10L1003.75,987.20L998.75,982.10Z" fill="#231f20"/>
<path d="M1085.25,1017.26L1090.25,1022.36L1085.25,1027.46L1080.25,1022.36Z" fill="#231f20"/>
<path d="M1370.50,1099.12L1375.50,1104.22L1370.50,1109.32L1365.50,1104.22Z" fill="#231f20"/>
<path d="M800.00,1130.73L805.00,1141.33L795.00,1141.33Z" fill="#231f20"/>
<path d="M840.75,1132.34L845.75,1142.94L835.75,1142.94Z" fill="#231f20"/>
<path d="M922.25,1134.22L927.25,1144.82L917.25,1144.82Z" fill="#231f20"/>
<path d="M1003.75,1141.73L1008.75,1152.33L998.75,1152.33Z" fill="#231f20"/>
<path d="M1085.25,1133.41L1090.25,1144.01L1080.25,1144.01Z" fill="#231f20"/>
<path d="M1370.50,1131.13L1375.50,1141.73L1365.50,1141.73Z" fill="#231f20"/>
<path d="M800.00,1130.73L805.00,1141.33L795.00,1141.33Z" fill="#231f20"/>
<path d="M840.75,1199.04L845.75,1209.64L835.75,1209.64Z" fill="#231f20"/>
<path d="M922.25,1189.51L927.25,1200.11L917.25,1200.11Z" fill="#231f20"/>
<path d="M1003.75,1174.08L1008.75,1184.68L998.75,1184.68Z" fill="#231f20"/>
<path d="M1085.25,1182.80L1090.25,1193.40L1080.25,1193.40Z" fill="#231f20"/>
<path d="M1370.50,1260.50L1375.50,1271.10L1365.50,1271.10Z" fill="#231f20"/>
<text transform="translate(1087.70,1327.30) scale(0.915,1)" font-family="'Liberation Serif', serif" font-weight="bold" font-size="25.6" text-anchor="middle" fill="#231f20" >Time (d)</text>
<text transform="translate(753.50,1098.50) rotate(-90)" font-family="'Liberation Serif', serif" font-weight="bold" font-size="19.5" text-anchor="middle" fill="#231f20" textLength="213.3" lengthAdjust="spacingAndGlyphs">PPO activity (U·g<tspan dy="-7" font-size="13">-1</tspan><tspan dy="7"> FW)</tspan></text>
<text x="717.4" y="939.9" font-family="'Liberation Sans', sans-serif" font-weight="bold" font-size="29.8" fill="#231f20">F</text>
</svg></body></html>
